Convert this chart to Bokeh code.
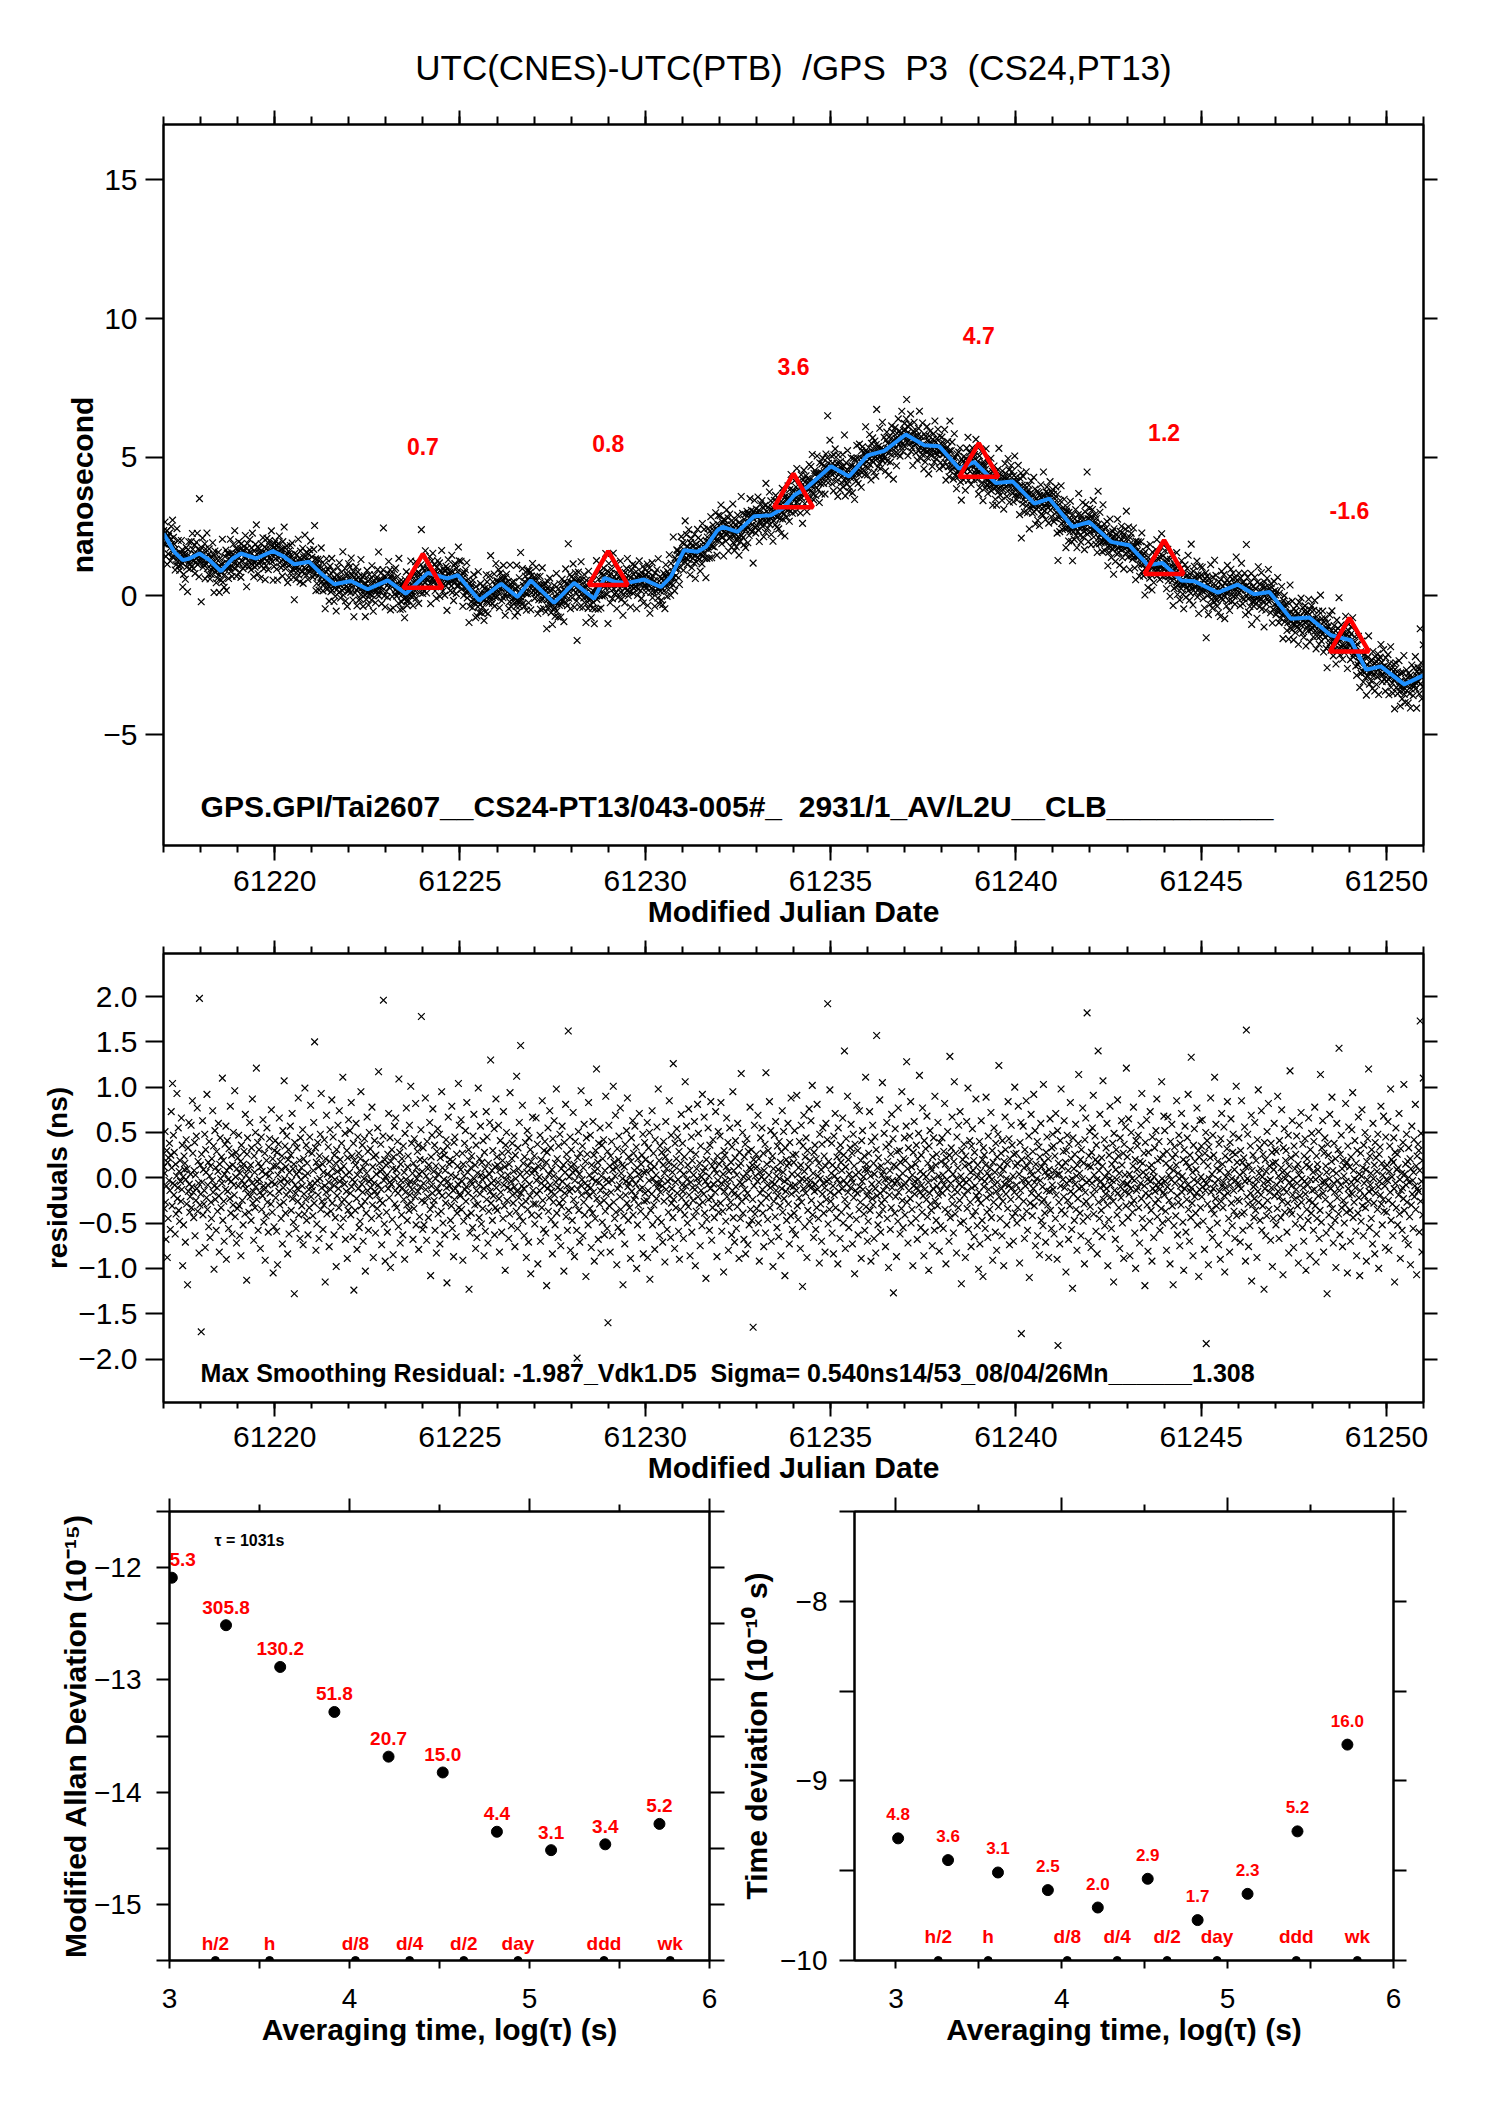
import numpy as np
from bokeh.plotting import figure
from bokeh.models import (Range1d, LinearAxis, FixedTicker, SingleIntervalTicker,
                          CustomJSTickFormatter, Label)
from bokeh.layouts import column, row
from bokeh.embed import file_html
from bokeh.resources import INLINE
from bokeh.core.properties import value

FONT = "Liberation Sans"
NB = "\u00a0"

# ---------------- texts ----------------
TITLE = "UTC(CNES)-UTC(PTB)" + NB + " /GPS" + NB + " P3" + NB + " (CS24,PT13)"
INFO_TOP = "GPS.GPI/Tai2607__CS24-PT13/043-005#_" + NB + " 2931/1_AV/L2U__CLB__________"
INFO_RES = "Max Smoothing Residual: -1.987_Vdk1.D5" + NB + " Sigma= 0.540ns14/53_08/04/26Mn______1.308"
TAU0_TEXT = "\u03c4 = 1031s"

# ---------------- time series (MJD) ----------------
MJD_START, MJD_END = 61217, 61251
SAMPLES_PER_DAY = 84

SMOOTH_MJD = [61217.00, 61217.29, 61217.52, 61217.70, 61217.97, 61218.24, 61218.55, 61218.87,
              61219.09, 61219.50, 61219.95, 61220.26, 61220.53, 61220.93, 61221.25, 61221.61,
              61222.06, 61222.51, 61223.05, 61223.54, 61224.13, 61224.67, 61224.94, 61225.52,
              61226.11, 61226.55, 61226.91, 61227.54, 61228.08, 61228.62, 61228.90, 61229.20,
              61229.52, 61229.97, 61230.42, 61230.69, 61231.05, 61231.41, 61231.64, 61231.95,
              61232.09, 61232.49, 61232.94, 61233.39, 61233.71, 61234.02, 61234.38, 61235.01,
              61235.50, 61236.00, 61236.45, 61237.03, 61237.53, 61237.93, 61238.47, 61238.88,
              61239.46, 61239.91, 61240.50, 61240.90, 61241.53, 61241.98, 61242.57, 61243.06,
              61243.56, 61243.96, 61244.46, 61244.82, 61245.45, 61245.98, 61246.43, 61246.84,
              61247.42, 61247.92, 61248.50, 61249.04, 61249.45, 61249.85, 61250.48, 61251.00]
SMOOTH_NS = [2.25, 1.59, 1.29, 1.35, 1.53, 1.29, 0.89, 1.35,
             1.53, 1.35, 1.62, 1.41, 1.14, 1.23, 0.81, 0.42,
             0.54, 0.24, 0.56, 0.08, 0.83, 0.63, 0.75, -0.16,
             0.44, -0.04, 0.56, -0.25, 0.47, -0.10, 0.65, 0.50,
             0.47, 0.59, 0.32, 0.69, 1.65, 1.59, 1.77, 2.37,
             2.49, 2.31, 2.87, 2.91, 3.15, 3.63, 3.93, 4.68,
             4.31, 5.07, 5.23, 5.82, 5.43, 5.40, 4.59, 4.83,
             4.07, 4.13, 3.33, 3.51, 2.49, 2.67, 1.95, 1.83,
             1.11, 1.19, 0.56, 0.53, 0.12, 0.41, 0.06, 0.14,
             -0.82, -0.78, -1.42, -1.60, -2.66, -2.54, -3.19, -2.86]

CLOSURE_MJD = [61224, 61229, 61234, 61239, 61244, 61249]
CLOSURE_NS = [0.7, 0.8, 3.6, 4.7, 1.2, -1.6]
CLOSURE_LABELS = ["0.7", "0.8", "3.6", "4.7", "1.2", "-1.6"]

# residuals of the smoothing, in units of 0.01 ns, one line per day
RESIDUAL_CNS = [
12,-34,5,51,-27,-68,-9,30,-88,17,-45,22,-3,38,-14,-57,25,73,11,-31,104,-6,47,-19,28,-8,-62,15,-40,2,93,-23,-11,55,-36,7,-48,19,-4,-26,66,-13,36,-97,1,-52,24,9,16,-71,-2,42,-29,10,-118,33,-15,61,-7,-38,-21,4,58,-33,-10,85,27,-16,-44,8,39,-64,3,-25,46,-12,77,-37,18,-6,-83,198,-30,14,
-18,-170,26,-5,63,-41,9,-29,-14,48,-77,31,6,-22,92,-35,-8,17,-54,40,2,-66,13,-27,-45,21,-3,74,-16,35,-101,-9,52,-24,11,-58,29,-11,-37,7,60,-20,-82,15,44,-1,-33,23,-6,110,-47,19,-26,-70,4,37,-13,57,-90,8,41,-15,-2,-56,32,12,-23,79,-39,-4,25,-62,14,-30,50,-8,-19,96,-43,1,28,-72,10,-34,
22,-9,47,-31,-64,5,18,-86,36,-3,-25,11,-52,15,29,-7,-40,70,-12,3,-113,26,44,-18,9,-38,-1,61,-21,14,-47,33,-6,87,-28,-15,-69,24,6,-33,50,-10,121,-24,-4,39,-58,16,31,-2,-16,-78,12,45,-35,7,-20,64,-9,-49,-13,27,-91,4,-42,19,55,-27,-8,-60,34,2,43,-17,8,-29,75,-5,-38,21,-105,13,-54,30,
-7,41,-22,13,-59,28,-96,3,37,-15,66,-30,18,-4,-45,9,24,-73,52,-11,-27,107,-1,35,-39,12,-19,46,-5,-84,20,31,-62,6,-14,57,25,-36,-3,71,-23,10,-49,15,-128,39,-8,-17,-56,4,33,-12,-26,88,-41,7,19,-67,44,-2,11,-31,-9,53,-74,21,-18,-40,99,2,-24,36,-47,16,5,-63,29,-13,-33,45,-6,80,-21,-10,
27,-14,-42,8,61,-28,150,-6,33,-80,17,-51,-3,39,-19,12,-67,24,-1,48,-35,93,-11,-26,15,-57,6,-30,42,-9,-115,21,-16,69,-40,4,-22,34,-5,-76,18,53,-13,-37,2,86,-28,10,45,-8,-63,25,-2,-44,16,-98,31,-20,7,58,-12,-33,74,-4,20,-54,9,38,-27,-1,111,-45,13,-24,-7,49,-68,3,-15,30,-89,22,-36,64,
-29,6,52,-17,-41,83,-10,24,-2,-65,38,-124,19,-5,-36,14,60,-23,-79,3,45,-12,27,-55,8,-48,21,95,-31,-7,36,-16,-70,11,-1,43,-26,-103,17,-39,5,67,-14,29,-58,-4,50,-20,32,-11,-2,-45,78,-30,12,-88,23,-6,41,-15,-61,25,4,-19,-34,55,-8,117,-42,16,-25,7,37,-13,-74,9,-28,46,196,-3,-51,20,-92,1,
14,-38,3,-60,26,-12,71,-22,-5,44,-99,18,-7,31,-46,10,-85,23,-1,57,-29,-14,66,9,-33,2,40,-17,-54,109,-9,28,-72,15,-3,-41,21,-11,-63,35,-24,6,-90,49,-16,-2,77,-30,-47,12,24,-8,-36,58,-19,-4,101,-27,38,-13,5,-68,16,-34,43,-6,-21,82,-52,11,-1,29,-15,36,-79,4,-43,20,-10,53,178,-25,7,-57,
33,-6,-52,19,-27,88,-13,2,-69,40,-21,10,-44,14,-3,61,-35,-108,23,-9,47,-17,76,-30,7,-25,36,-58,-1,13,-83,29,-12,54,-40,4,-16,48,-73,22,-6,-37,95,-20,11,-50,30,-2,25,-63,8,-28,42,-11,-116,35,-4,67,-19,15,-9,20,-47,3,-31,79,-56,18,-14,-87,39,-24,45,-12,1,-65,26,-39,13,-7,104,-33,58,-18,
-20,9,64,-35,-4,27,-91,15,-48,2,38,-13,52,-26,-10,83,-42,6,-17,31,-123,19,-61,-3,11,-39,24,-7,-55,46,-22,70,-1,-30,14,-78,36,-14,-66,5,-29,99,-8,-44,21,-18,57,3,-51,17,-2,-34,41,-12,-86,28,10,-59,1,73,-24,45,-9,-72,16,-37,4,61,-15,130,-28,-6,8,-47,30,-20,-3,54,-63,12,-33,87,-11,23,
-36,14,-5,58,-23,-82,9,41,-16,2,-60,27,19,-45,73,-8,-31,12,-102,36,-2,50,-25,-11,3,29,-67,15,-40,94,-13,-4,-53,21,38,-19,-28,7,46,-10,-76,25,-1,-37,112,-15,-56,33,10,-22,61,-43,4,146,-17,-30,-9,80,-48,16,-12,-64,23,-2,39,-26,-88,6,52,-35,13,-71,44,-7,-20,31,-106,18,-41,5,67,-14,-29,9,
24,-51,8,-29,66,-3,-18,37,-95,13,-42,1,-14,47,-70,20,-6,-33,85,-25,11,-57,30,-9,40,-2,-61,17,-119,28,-12,55,-37,4,-22,74,-8,33,-46,-15,9,-84,43,-27,2,63,-19,-52,16,-5,98,-39,21,-11,-66,35,-1,-28,48,-13,-75,10,-32,57,-4,-24,14,-103,39,-17,6,81,-43,26,-9,-58,19,162,-36,1,-15,45,-80,12,
31,-12,-47,6,72,-24,15,-87,-3,40,-30,9,-58,-199,22,-13,51,-36,4,-71,27,-8,96,-19,-2,35,-64,11,-27,59,-41,-6,18,-109,44,-15,26,-9,-52,83,-20,3,-34,47,-11,-77,14,-1,-39,62,-16,25,-92,7,-45,30,-4,120,-23,10,17,-68,38,-5,-29,55,-14,-83,2,36,-49,21,-10,42,-25,-63,8,-37,90,-18,-2,-56,29,-160,
-5,58,-31,13,-82,24,-16,40,-3,-64,9,101,-27,17,-45,2,69,-38,11,-96,32,-12,-55,20,46,-8,-21,77,-35,5,-60,14,-1,-118,29,-42,12,-73,37,-19,-4,52,-28,88,-10,-47,23,-6,-33,3,-89,18,44,-15,-2,63,-41,27,-24,8,57,-20,-7,34,-100,11,-52,21,-30,4,71,-13,-1,-37,15,-66,25,-11,48,-84,6,-26,39,-17,
20,-43,7,-25,61,-88,-14,33,-3,50,-112,16,-36,9,-18,74,-52,-1,27,-30,12,-79,42,-6,3,-23,56,-11,-45,98,-7,19,-64,35,-16,-2,-49,28,-9,-71,14,40,-26,5,-93,23,62,-13,10,-57,31,-4,-38,17,85,-20,-1,-66,47,-28,-12,6,-44,126,-24,13,-78,38,-5,-33,21,54,-17,45,-2,-59,29,-90,8,-35,16,70,-22,-8,
38,-15,-67,4,23,-41,106,-9,-28,57,-2,-50,14,-32,76,-19,8,-86,30,-5,45,-60,19,-11,-25,3,-43,62,-13,-97,26,-37,10,-1,81,-21,49,-6,-30,16,-75,35,-14,1,-53,92,-27,7,-18,67,-39,11,-4,-111,20,-46,29,-8,55,-24,2,-58,36,-12,84,-22,-69,13,-33,42,-7,18,-44,9,-16,73,-29,5,-87,24,-3,51,-38,15,
-11,46,-28,83,-6,-59,19,-37,4,-104,30,-15,25,-3,-48,12,66,-21,-9,39,-80,7,-33,55,-2,-27,17,-63,34,-14,95,-44,8,-18,-71,22,41,-10,-56,3,-32,60,-20,13,-89,28,-5,-45,16,115,-26,-7,50,-39,1,-68,23,-13,37,-84,-22,5,43,-17,-74,29,-1,-52,11,78,-35,9,31,-47,14,-24,-165,20,-9,58,-40,2,-61,26,
-34,12,-4,69,-50,21,-92,6,-17,44,-28,1,55,-13,-39,27,-76,8,-2,37,-61,116,-22,15,-8,-46,30,-19,3,84,-33,-11,52,-70,19,-5,24,-98,10,-26,47,-7,-43,62,-14,2,-55,35,-20,9,-65,40,-1,-31,17,-86,29,-12,74,-38,6,51,-23,-4,-108,33,-15,20,-47,13,-2,60,-29,16,-73,39,-9,-42,88,-18,4,-57,25,-10,
17,-39,52,-8,-63,26,-14,91,-31,3,-46,11,-22,40,-5,-78,14,58,-27,-1,-120,35,-12,69,7,-54,23,-17,44,-2,-88,30,-36,12,-9,76,-48,19,-3,63,-25,-10,102,-41,5,-66,28,-15,36,-7,-57,21,-33,81,-13,2,-45,16,-94,48,-1,-29,9,-70,37,-18,55,-6,-39,24,-11,-82,13,60,-24,-4,42,192,-51,18,-2,-35,97,-16,
-26,5,38,-61,14,-9,-84,46,-19,2,71,-33,10,-44,23,-2,-95,55,-15,29,-6,-67,36,17,-38,8,-12,66,-50,25,-3,140,-24,-78,12,43,-7,-31,90,-16,20,-55,4,-42,33,-11,59,-1,27,-73,-5,48,-22,13,-106,37,-14,3,-46,80,-17,30,-63,6,-35,74,-10,-27,19,-89,41,-4,52,-13,1,-40,24,-58,9,111,-32,15,-20,-70,
9,-48,27,-15,73,-36,2,-92,40,-7,-23,58,-30,16,-67,4,45,-12,-83,31,157,-20,11,-52,22,-5,-41,86,-17,-60,13,-28,3,105,-35,7,-14,49,-24,-2,-76,34,-9,61,-45,18,-1,-99,37,-19,8,-57,26,-33,70,-11,-3,43,-127,14,-6,-39,54,-21,12,-87,29,-4,-48,77,-16,1,30,-62,17,-10,-34,95,-25,5,-55,21,-8,44,
-41,19,-6,57,128,-27,10,-72,33,-14,-1,46,-23,84,-50,12,-35,3,-97,28,-9,62,-18,-4,15,-45,36,-11,-68,21,-2,49,-30,113,-16,7,-55,25,-8,-38,77,-20,4,-86,41,-13,-60,32,1,-24,68,-43,16,-5,-102,35,-17,52,-29,11,-36,8,-75,23,-12,44,-1,-58,90,-26,14,-47,26,-9,-31,61,-19,2,-81,39,-14,-53,18,-3,
44,-17,3,-56,29,-8,82,-35,15,-95,22,-2,-12,51,-38,9,-70,25,134,-44,-6,33,-21,67,-29,4,-61,18,106,-13,-40,27,-1,-83,45,-16,11,-33,58,-7,-25,73,-50,2,-117,30,-10,20,-3,-48,37,-19,13,-88,24,-5,62,-34,-14,99,-57,15,-2,41,-27,6,-76,35,-11,54,-42,8,19,-65,28,-9,-37,87,-20,1,-53,14,-24,-101,
-16,40,-73,7,-28,63,-1,-47,20,-109,33,-10,25,-4,-56,14,89,-22,-38,5,-66,46,-13,2,-35,11,-19,72,-44,-2,30,-91,17,-27,55,-8,6,-60,38,-15,-80,23,-5,48,-32,124,-21,12,-45,3,27,-12,-64,41,-26,9,-97,18,-7,67,31,-18,-1,-52,15,-34,84,-9,43,-74,21,-3,-24,58,-11,36,-43,2,-70,26,-16,100,-39,13,
27,-8,-50,16,-33,79,-21,4,-94,39,-14,61,-172,20,-3,-44,57,-26,11,-67,31,-9,-2,85,-37,13,-58,24,-6,46,-110,18,-28,7,70,-17,3,-42,29,-12,92,-31,-5,52,-75,15,-22,-1,40,-64,8,-19,34,-85,23,-3,60,-47,12,-27,-10,-53,103,-24,17,-39,6,-71,28,-14,45,2,-30,21,-88,9,-15,65,-36,1,-56,33,-8,48,
-13,35,-62,8,24,-45,71,-19,3,-90,52,-185,16,-27,4,-73,41,-9,98,-36,12,-54,-2,29,-21,63,-11,-40,17,-104,30,-6,47,-25,8,-68,37,-3,-31,83,-15,21,-57,-1,-122,44,-18,10,-47,26,-7,59,-35,2,-80,14,-23,38,114,-12,5,-39,20,-64,31,-10,-1,77,-48,16,-29,-95,42,-16,66,-26,-5,182,-43,13,-70,24,-3,51,
-32,12,-77,28,-6,55,-19,91,-40,3,-13,46,20,-59,36,-2,-84,17,140,-27,8,-45,70,-11,-4,-36,22,-65,13,107,-24,-9,42,-53,1,-18,33,-12,60,-30,-97,6,-46,25,-1,79,-21,-8,-56,15,-3,38,-26,-115,49,-14,19,-68,9,31,-2,-41,86,-17,24,-33,5,-78,44,-10,-22,63,14,-50,-5,27,-89,37,-15,3,56,-31,121,-7,
23,-7,-44,65,-18,4,-86,31,-12,50,-29,-1,-38,13,78,-25,-3,-61,20,-100,41,-14,9,35,-11,47,-33,2,-72,18,-6,58,-23,93,-45,16,6,-55,27,-9,-119,39,-17,3,64,-30,-2,-81,28,-20,11,-48,73,-4,-36,14,-92,45,-12,7,-66,1,33,-15,-28,52,-8,87,-43,19,-24,-5,40,-13,-58,21,-7,-34,106,-1,-50,26,-16,68,
-19,52,-4,-37,16,-80,29,-10,67,-46,3,-25,11,-95,40,-14,-2,59,-31,22,-118,8,-53,34,-6,26,-42,14,85,-20,-63,5,-27,47,-1,-75,38,-9,-30,71,-16,2,-49,20,-102,31,-12,57,-3,-60,17,-24,44,-8,92,-35,12,-70,25,-15,-44,133,-11,-28,6,-86,36,-2,54,-21,18,-39,9,-17,77,-52,-5,30,-109,23,-13,63,-33,1,
35,-21,64,-10,-48,18,-3,-79,27,-14,50,-183,-7,41,-29,13,-96,34,-1,-57,22,88,-16,-35,4,-66,47,-12,25,-40,111,-6,-23,59,-31,10,-50,18,-2,-74,37,-15,8,-90,43,-26,71,-9,15,-33,-5,56,-20,-104,24,-11,1,-61,32,84,-17,6,-45,20,-82,39,-8,65,-28,-1,-53,28,48,-14,-37,9,-67,26,-3,101,-42,17,-24,-6,
-9,44,-26,3,-71,30,-12,85,-40,17,-58,6,22,-38,56,-4,-92,12,163,-21,-1,48,-29,-76,14,-3,-53,35,-17,69,-114,8,-30,25,-10,-44,-23,61,-8,-36,19,-2,-88,42,-15,97,-27,5,33,-47,10,-19,74,-58,1,-31,26,-6,-123,39,-12,20,-64,7,-42,51,-25,-4,82,-35,13,-16,-2,-69,38,-11,28,-98,16,-45,9,60,-20,31,
17,-52,29,-8,-34,90,-15,2,-67,41,-21,-3,-44,11,75,-26,6,-107,33,-12,54,-38,-1,19,30,-16,-60,4,-28,47,-83,13,-5,118,-36,22,-9,-40,63,-19,-2,-77,35,-24,10,-51,26,-13,46,-6,-31,15,-94,3,58,-20,-43,8,72,-27,-1,-55,37,-11,-70,24,-4,43,-18,-102,14,-35,21,-8,-47,66,-25,12,-86,31,-2,-39,49,-14,
-27,6,-58,40,-13,78,-31,-2,-93,24,-45,15,9,-20,51,-67,2,-36,114,-11,-49,33,-5,63,-17,-82,27,-4,44,-24,13,-61,6,-128,37,-9,25,-41,-1,70,-29,-12,-54,18,89,-34,8,-72,-6,38,-16,-47,21,-99,5,60,-22,-3,31,-40,143,-14,-63,26,-8,47,-33,10,-76,19,-25,2,-50,13,-30,82,-4,-38,17,-105,35,-12,56,-19,
12,-36,-70,23,-5,53,-18,94,-44,8,-27,-1,41,-11,-59,16,-86,30,-3,-39,67,-22,4,-108,-14,27,-48,2,75,-31,11,-64,36,-6,-20,50,-33,9,-92,18,-2,43,-26,120,-15,-55,24,-8,5,-45,31,-13,-73,60,-1,-28,14,-84,39,-17,22,-62,7,-35,48,-10,-100,26,-4,34,-19,79,-29,16,-52,3,-24,68,-37,11,-9,-77,45,-2,
-38,14,-3,62,-25,-80,7,35,-16,98,-47,20,1,-29,-64,17,44,-12,-115,28,-6,55,-33,9,26,-52,11,-19,71,-40,-2,-89,32,-14,5,-58,-11,39,-23,103,-36,4,-67,15,-8,48,-27,-1,18,-74,33,-5,-43,21,-96,10,-30,57,-18,-3,-56,6,42,-21,-9,81,-35,13,-107,24,-12,37,-15,30,-60,8,173,-26,49,-4,-82,19,-41,110,
]

# ---------------- stability analysis ----------------
LOG_TAU = [3.013, 3.314, 3.615, 3.916, 4.217, 4.518, 4.819, 5.120, 5.421, 5.722]
LOG_MDEV = [-12.09, -12.513, -12.885, -13.286, -13.684, -13.825, -14.353, -14.517, -14.465, -14.283]
MDEV_LABELS = ["5.3", "305.8", "130.2", "51.8", "20.7", "15.0", "4.4", "3.1", "3.4", "5.2"]
LOG_TDEV = [-9.320, -9.441, -9.510, -9.608, -9.705, -9.545, -9.775, -9.629, -9.281, -8.798]
TDEV_LABELS = ["4.8", "3.6", "3.1", "2.5", "2.0", "2.9", "1.7", "2.3", "5.2", "16.0"]
MARK_LOG_TAU = [3.255, 3.556, 4.033, 4.334, 4.635, 4.936, 5.414, 5.782]
MARK_LABELS = ["h/2", "h", "d/8", "d/4", "d/2", "day", "ddd", "wk"]

A_YTICKS = [-5, 0, 5, 10, 15]
B_YTICKS = [-2, -1.5, -1, -0.5, 0, 0.5, 1, 1.5, 2]
C_YTICKS = [-15, -14, -13, -12]
C_YMINOR = [-15.5, -14.5, -13.5, -12.5, -11.5]
D_YTICKS = [-10, -9, -8]
D_YMINOR = [-9.5, -8.5, -7.5]
LOG_XTICKS = [3, 4, 5, 6]
LOG_XMINOR = [3.5, 4.5, 5.5]

MINUS = "\u2212"


def fmt_over(ticks, decimals):
    out = {}
    for t in ticks:
        s = f"{abs(t):.{decimals}f}"
        key = int(t) if float(t).is_integer() else t
        out[key] = (MINUS + s) if t < 0 else s
    return out


BLANK = CustomJSTickFormatter(code="return ''")


def base_fig(fw, fh, bl, br, bt, bb, xr, yr, title=None):
    kw = dict(frame_width=fw, frame_height=fh, min_border_left=bl, min_border_right=br,
              min_border_top=bt, min_border_bottom=bb, x_range=xr, y_range=yr,
              output_backend="svg", toolbar_location=None, tools="")
    if title is not None:
        kw["title"] = title
    p = figure(**kw)
    p.grid.visible = False
    p.outline_line_color = "black"
    p.outline_line_width = 2
    p.background_fill_color = "white"
    p.border_fill_color = "white"
    return p


def style_axis(ax, major_out, minor_out, label_size="30px", standoff=8):
    ax.axis_line_width = 2
    ax.axis_line_color = "black"
    ax.major_tick_line_width = 2
    ax.minor_tick_line_width = 2
    ax.major_tick_line_color = "black"
    ax.minor_tick_line_color = "black"
    ax.major_tick_in = 0
    ax.minor_tick_in = 0
    ax.major_tick_out = major_out
    ax.minor_tick_out = minor_out
    ax.major_label_text_font = FONT
    ax.major_label_text_font_size = label_size
    ax.major_label_text_color = "black"
    ax.major_label_standoff = standoff
    ax.axis_label_text_font = FONT
    ax.axis_label_text_font_style = "bold"
    ax.axis_label_text_color = "black"


def add_blank_axis(p, side, ticker, major_out, minor_out):
    ax = LinearAxis(ticker=ticker, formatter=BLANK)
    style_axis(ax, major_out, minor_out, label_size="1px", standoff=0)
    p.add_layout(ax, side)
    return ax


# ---------------- derived series ----------------
resid_ns = np.array(RESIDUAL_CNS, dtype=float) / 100.0
mjd = MJD_START + (np.arange(len(resid_ns)) + 0.5) / SAMPLES_PER_DAY
raw_ns = np.interp(mjd, SMOOTH_MJD, SMOOTH_NS) + resid_ns

# ================= A: time comparison =================
pa = base_fig(1260, 721, 163, 57, 124, 93, Range1d(MJD_START, MJD_END), Range1d(-9, 17), title=TITLE)
pa.title.text_font = FONT
pa.title.text_font_style = "normal"
pa.title.text_font_size = "35px"
pa.title.text_color = "black"
pa.title.align = "center"
pa.title.standoff = 48

xa = pa.xaxis[0]
xa.ticker = SingleIntervalTicker(interval=5, num_minor_ticks=5)
style_axis(xa, 15, 7, standoff=10)
xa.axis_label = "Modified Julian Date"
xa.axis_label_text_font_size = "30px"
xa.axis_label_standoff = 1
ya = pa.yaxis[0]
ya.ticker = FixedTicker(ticks=A_YTICKS)
style_axis(ya, 18, 0, standoff=8)
ya.major_label_overrides = fmt_over(A_YTICKS, 0)
ya.axis_label = "nanosecond"
ya.axis_label_text_font_size = "30px"
ya.axis_label_standoff = 1
add_blank_axis(pa, "above", SingleIntervalTicker(interval=5, num_minor_ticks=5), 14, 8)
add_blank_axis(pa, "right", FixedTicker(ticks=A_YTICKS), 14, 0)

pa.scatter(mjd, raw_ns, marker="x", size=9.5, line_color="black", line_width=1.2)
pa.line(SMOOTH_MJD, SMOOTH_NS, line_color="#1E90FF", line_width=4)
pa.scatter(CLOSURE_MJD, CLOSURE_NS, marker="triangle", size=39, fill_color=None,
           line_color="red", line_width=4.5)
pa.text(CLOSURE_MJD, CLOSURE_NS, text=CLOSURE_LABELS, y_offset=-130, text_color="red",
        text_font=value(FONT), text_font_style="bold", text_font_size="23px",
        text_align="center", text_baseline="middle")
pa.add_layout(Label(x=MJD_START + 1, y=-7.58, text=INFO_TOP, text_font=FONT,
                    text_font_style="bold", text_font_size="30px", text_color="black",
                    text_align="left", text_baseline="middle"))

# ================= B: residuals =================
pb = base_fig(1260, 449, 163, 57, 15, 92, Range1d(MJD_START, MJD_END), Range1d(-2.48, 2.475))
xb = pb.xaxis[0]
xb.ticker = SingleIntervalTicker(interval=5, num_minor_ticks=5)
style_axis(xb, 14, 6, standoff=10)
xb.axis_label = "Modified Julian Date"
xb.axis_label_text_font_size = "30px"
xb.axis_label_standoff = 1
yb = pb.yaxis[0]
yb.ticker = FixedTicker(ticks=B_YTICKS)
style_axis(yb, 18, 0, standoff=8)
yb.major_label_overrides = fmt_over(B_YTICKS, 1)
yb.axis_label = "residuals (ns)"
yb.axis_label_text_font_size = "28px"
yb.axis_label_standoff = 2
add_blank_axis(pb, "above", SingleIntervalTicker(interval=5, num_minor_ticks=5), 13, 7)
add_blank_axis(pb, "right", FixedTicker(ticks=B_YTICKS), 14, 0)

pb.scatter(mjd, resid_ns, marker="x", size=9.5, line_color="black", line_width=1.2)
pb.add_layout(Label(x=MJD_START + 1, y=-2.153, text=INFO_RES, text_font=FONT,
                    text_font_style="bold", text_font_size="25px", text_color="black",
                    text_align="left", text_baseline="middle"))

# ================= C: modified Allan deviation =================
C_X = (3, 6)
C_Y = (-15.5, -11.5)
pc = base_fig(540, 449, 169, 26, 17, 130, Range1d(*C_X), Range1d(*C_Y))
xc = pc.xaxis[0]
xc.ticker = FixedTicker(ticks=LOG_XTICKS, minor_ticks=LOG_XMINOR)
style_axis(xc, 8, 8, label_size="28px", standoff=20)
xc.axis_label = "Averaging time, log(\u03c4) (s)"
xc.axis_label_text_font_size = "30px"
xc.axis_label_standoff = 2
yc = pc.yaxis[0]
yc.ticker = FixedTicker(ticks=C_YTICKS, minor_ticks=C_YMINOR)
style_axis(yc, 13, 13, label_size="28px", standoff=15)
yc.major_label_overrides = fmt_over(C_YTICKS, 0)
yc.axis_label = "Modified Allan Deviation (10\u207b\u00b9\u2075)"
yc.axis_label_text_font_size = "30px"
yc.axis_label_standoff = -1
add_blank_axis(pc, "above", FixedTicker(ticks=LOG_XTICKS, minor_ticks=LOG_XMINOR), 13, 7)
add_blank_axis(pc, "right", FixedTicker(ticks=C_YTICKS, minor_ticks=C_YMINOR), 15, 15)

pc.scatter(LOG_TAU, LOG_MDEV, size=11, color="black")
pc.text(LOG_TAU[1:], LOG_MDEV[1:], text=MDEV_LABELS[1:], y_offset=-18, text_color="red",
        text_font=value(FONT), text_font_style="bold", text_font_size="19px",
        text_align="center", text_baseline="middle")
pc.text([C_X[0]], [LOG_MDEV[0]], text=[MDEV_LABELS[0]], y_offset=-18, text_color="red",
        text_font=value(FONT), text_font_style="bold", text_font_size="19px",
        text_align="left", text_baseline="middle")
pc.scatter(MARK_LOG_TAU, [C_Y[0]] * len(MARK_LOG_TAU), size=8, color="black")
pc.text(MARK_LOG_TAU, [C_Y[0]] * len(MARK_LOG_TAU), text=MARK_LABELS, y_offset=-17,
        text_color="red", text_font=value(FONT), text_font_style="bold",
        text_font_size="19px", text_align="center", text_baseline="middle")
pc.add_layout(Label(x=3.25, y=-11.76, text=TAU0_TEXT, text_font=FONT, text_font_style="bold",
                    text_font_size="16px", text_color="black", text_align="left",
                    text_baseline="middle"))

# ================= D: time deviation =================
D_X = (2.75, 6)
D_Y = (-10, -7.5)
pd_ = base_fig(539, 449, 119, 87, 17, 130, Range1d(*D_X), Range1d(*D_Y))
xd = pd_.xaxis[0]
xd.ticker = FixedTicker(ticks=LOG_XTICKS, minor_ticks=LOG_XMINOR)
style_axis(xd, 8, 8, label_size="28px", standoff=20)
xd.axis_label = "Averaging time, log(\u03c4) (s)"
xd.axis_label_text_font_size = "30px"
xd.axis_label_standoff = 2
yd = pd_.yaxis[0]
yd.ticker = FixedTicker(ticks=D_YTICKS, minor_ticks=D_YMINOR)
style_axis(yd, 15, 15, label_size="28px", standoff=12)
yd.major_label_overrides = fmt_over(D_YTICKS, 0)
yd.axis_label = "Time deviation (10\u207b\u00b9\u2070 s)"
yd.axis_label_text_font_size = "30px"
yd.axis_label_standoff = 4
add_blank_axis(pd_, "above", FixedTicker(ticks=LOG_XTICKS, minor_ticks=LOG_XMINOR), 14, 7)
add_blank_axis(pd_, "right", FixedTicker(ticks=D_YTICKS, minor_ticks=D_YMINOR), 13, 13)

pd_.scatter(LOG_TAU, LOG_TDEV, size=11, color="black")
pd_.text(LOG_TAU, LOG_TDEV, text=TDEV_LABELS, y_offset=-24, text_color="red",
         text_font=value(FONT), text_font_style="bold", text_font_size="17px",
         text_align="center", text_baseline="middle")
pd_.scatter(MARK_LOG_TAU, [D_Y[0]] * len(MARK_LOG_TAU), size=8, color="black")
pd_.text(MARK_LOG_TAU, [D_Y[0]] * len(MARK_LOG_TAU), text=MARK_LABELS, y_offset=-24,
         text_color="red", text_font=value(FONT), text_font_style="bold",
         text_font_size="19px", text_align="center", text_baseline="middle")

layout = column(pa, pb, row(pc, pd_))
open("out.html", "w").write(file_html(layout, INLINE))
